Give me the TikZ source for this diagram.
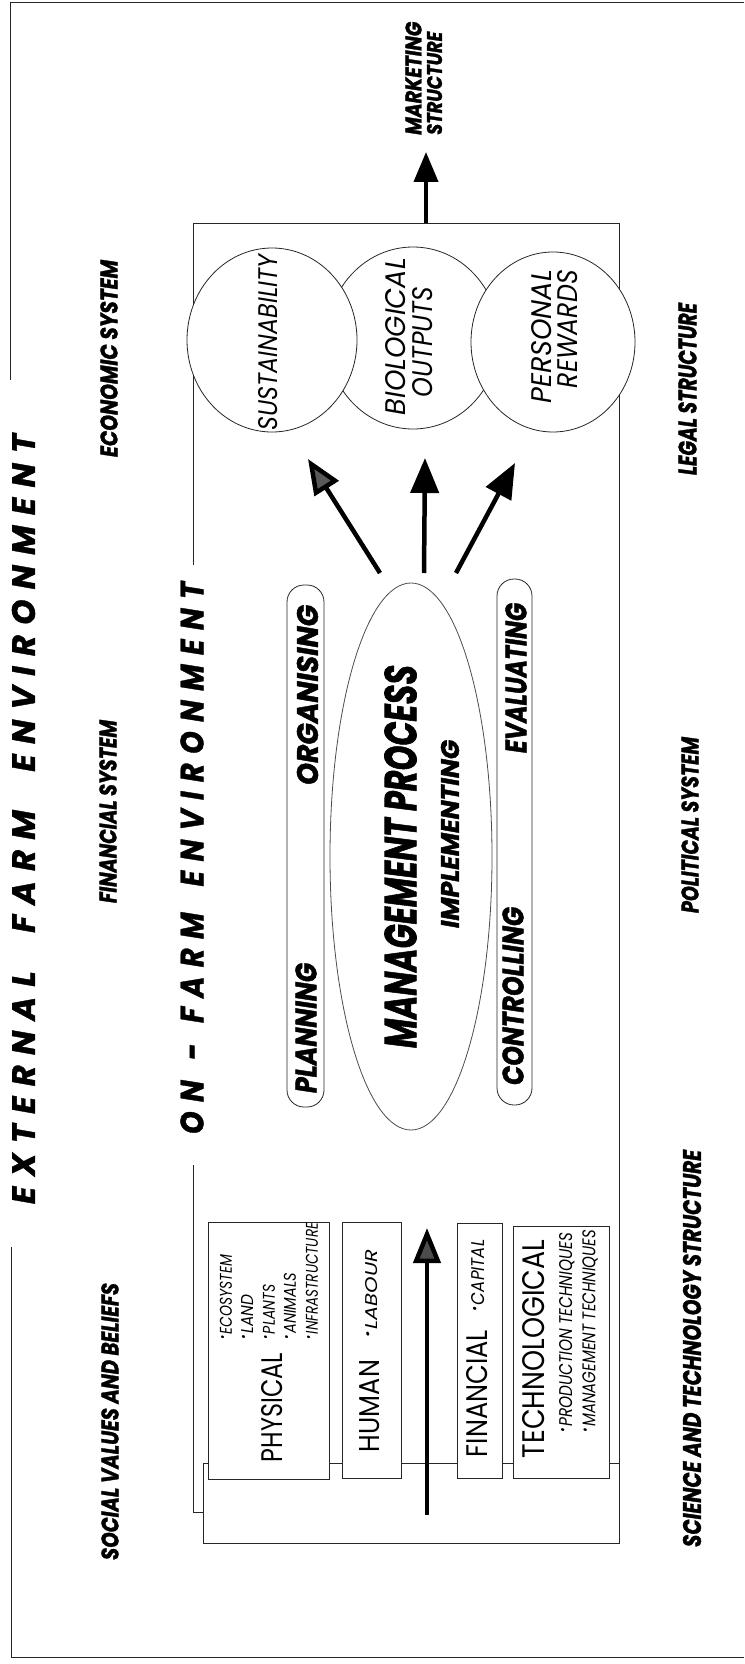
\documentclass[tikz,border=0pt]{standalone}
\usepackage{fontspec}
\usepackage{graphicx}
\usetikzlibrary{arrows.meta}
\setmainfont{Poppins}
\newfontfamily\heavyfont[FakeBold=1.6]{Poppins}
\newfontfamily\trackfont[LetterSpace=32,FakeBold=1.2]{Poppins}
% fit a piece of text to a given length and cap height (in pt)
\newcommand\fitto[3]{\resizebox{#1pt}{#2pt}{#3}}
\newcommand\bul{\raisebox{0.3em}{\scalebox{0.75}{•}}\hspace{0.1em}}

\tikzset{
  frame/.style={line width=0.8pt, draw=black!85},
  lbl/.style={rotate=90, inner sep=0pt, font=\heavyfont\bfseries\itshape},
  softtxt/.style={rotate=90, inner sep=0pt, font=\itshape},
  restxt/.style={rotate=90, inner sep=0pt, font=\normalfont},
  bigarrow/.style={line width=4.5pt, draw=black, -{Triangle[length=35pt,width=28pt]}},
  resbox/.style={frame, fill=white},
  pillbox/.style={frame, rounded corners=17pt},
  circ/.style={frame, fill=white},
}

\begin{document}
\begin{tikzpicture}[x=1pt, y=-1pt]
\useasboundingbox (0,0) rectangle (744,1664);
\fill[white] (0,0) rectangle (744,1664);

% external frame, broken by its title
\draw[frame] (10,380) -- (10,2) -- (744,2);
\draw[frame] (11,1247) -- (11,1657) -- (744,1657);
\node[lbl] (ext) at (23.5,819)
  {\fitto{770}{23}{\trackfont\bfseries\itshape EXTERNAL\hspace{1.2em}FARM\hspace{1.2em}ENVIRONMENT}};

% external systems and structures
\node[lbl] (eco) at (109,358.5) {\fitto{197}{17}{ECONOMIC SYSTEM}};
\node[lbl] (fin) at (108,811.5) {\fitto{183}{17}{FINANCIAL SYSTEM}};
\node[lbl] (soc) at (110,1421.5) {\fitto{277}{17}{SOCIAL VALUES AND BELIEFS}};
\node[lbl] (leg) at (687.5,389) {\fitto{172}{18}{LEGAL STRUCTURE}};
\node[lbl] (pol) at (690,825) {\fitto{176}{17}{POLITICAL SYSTEM}};
\node[lbl] (sci) at (692,1348.5) {\fitto{397}{18}{SCIENCE AND TECHNOLOGY STRUCTURE}};
\node[lbl, anchor=west] (mkt1) at (413.5,135) {\fitto{113}{16}{MARKETING}};
\node[lbl, anchor=west] (mkt2) at (434.5,135) {\fitto{103}{15}{STRUCTURE}};

% on-farm box with its base sheet
\draw[frame] (193,565) -- (193,223) -- (619,223) -- (619,1543);
\draw[frame] (193,1165) -- (193,1512) -- (203,1512);
\draw[frame] (203,1463) rectangle (619,1543);
\node[lbl] (onf) at (192,858)
  {\fitto{552}{23}{\trackfont\bfseries\itshape ON\hspace{0.7em}-\hspace{0.7em}FARM\hspace{0.9em}ENVIRONMENT}};

% outcomes
\draw[circ] (413,338) ellipse [x radius=86, y radius=91];
\draw[circ] (272,340) ellipse [x radius=85, y radius=92];
\draw[circ] (553,342) ellipse [x radius=82, y radius=90];
\node[softtxt] (sus) at (268,342.5) {\fitto{175}{19}{SUSTAINABILITY}};
\node[softtxt] (bio1) at (395.5,336.5) {\fitto{157}{20}{BIOLOGICAL}};
\node[softtxt] (bio2) at (422.5,342) {\fitto{110}{20}{OUTPUTS}};
\node[softtxt, anchor=east] (per1) at (541.5,270) {\fitto{133}{20}{PERSONAL}};
\node[softtxt, anchor=east] (per2) at (567.5,270) {\fitto{118}{20}{REWARDS}};

% management process
\draw[frame, draw=black!70] (411,856.5) ellipse [x radius=81, y radius=273.5];
\draw[pillbox] (287,585) rectangle (324,1107);
\draw[pillbox] (497,579) rectangle (532,1105);
\node[lbl] (mgmt) at (400.5,856.5) {\fitto{383}{32}{MANAGEMENT PROCESS}};
\node[lbl] (impl) at (450,834) {\fitto{188}{18}{IMPLEMENTING}};
\node[lbl] (plan) at (306,1028) {\fitto{130}{21}{PLANNING}};
\node[lbl] (org) at (307.5,695) {\fitto{180}{21}{ORGANISING}};
\node[lbl] (ctrl) at (513,996) {\fitto{178}{21}{CONTROLLING}};
\node[lbl] (eval) at (516,678) {\fitto{150}{21}{EVALUATING}};

% resources
\draw[resbox] (208,1222) rectangle (329,1479);
\draw[resbox] (342,1222) rectangle (401,1478);
\draw[resbox] (457,1223) rectangle (502,1478);
\draw[resbox] (513,1226) rectangle (609,1478);
\node[restxt] (phys) at (272.5,1407.5) {\fitto{109}{21}{PHYSICAL}};
\node[restxt] (hum) at (370,1406) {\fitto{92}{20}{HUMAN}};
\node[restxt] (finr) at (477.5,1393.5) {\fitto{127}{21}{FINANCIAL}};
\node[restxt] (tech) at (534,1349) {\fitto{218}{22}{TECHNOLOGICAL}};
\node[softtxt, anchor=west] (p1) at (226,1340) {\fitto{85}{12}{\bul ECOSYSTEM}};
\node[softtxt, anchor=west] (p2) at (247,1340) {\fitto{45}{12}{\bul LAND}};
\node[softtxt, anchor=west] (p3) at (269,1340) {\fitto{55}{12}{\bul PLANTS}};
\node[softtxt, anchor=west] (p4) at (290,1340) {\fitto{67}{12}{\bul ANIMALS}};
\node[softtxt, anchor=west] (p5) at (312,1340) {\fitto{117}{12}{\bul INFRASTRUCTURE}};
\node[softtxt, anchor=west] (h1) at (372,1338) {\fitto{88}{12}{\bul LABOUR}};
\node[softtxt, anchor=west] (f1) at (478.5,1312) {\fitto{72}{13}{\bul CAPITAL}};
\node[softtxt, anchor=west] (t1) at (567.5,1433) {\fitto{200}{13}{\bul PRODUCTION TECHNIQUES}};
\node[softtxt, anchor=west] (t2) at (590,1433) {\fitto{203}{13}{\bul MANAGEMENT TECHNIQUES}};

% arrows
\coordinate (boxtop) at (426,223);
\coordinate (mkttip) at (426,152);
\coordinate (o1s) at (380,573);
\coordinate (o1e) at (308,459);
\coordinate (o2s) at (424,573);
\coordinate (o2e) at (425,458);
\coordinate (o3s) at (456,573);
\coordinate (o3e) at (515,463);
\coordinate (ins) at (427,1515);
\coordinate (ine) at (427,1228);
\draw[line width=4pt, -{Triangle[length=30pt,width=24pt]}] (boxtop) -- (mkttip);
\draw[bigarrow, -{Triangle[length=35pt,width=28pt,fill=black!65]}] (o1s) -- (o1e);
\draw[bigarrow] (o2s) -- (o2e);
\draw[bigarrow] (o3s) -- (o3e);
\draw[bigarrow, -{Triangle[length=35pt,width=27pt,fill=black!70]}] (ins) -- (ine);
\end{tikzpicture}
\end{document}
